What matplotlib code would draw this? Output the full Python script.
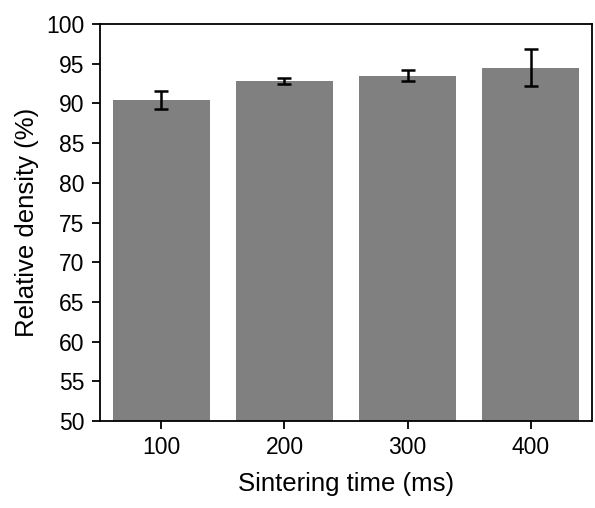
import numpy as np
import matplotlib.pyplot as plt

plt.rcParams['font.family'] = ['Liberation Sans', 'DejaVu Sans']

# sintering time (ms) vs relative density (%)
times = ['100', '200', '300', '400']
density = [90.4, 92.8, 93.5, 94.5]
density_err = [1.15, 0.4, 0.65, 2.3]

fig = plt.figure(figsize=(5.95, 5.08), dpi=100)
ax = fig.add_axes([0.168, 0.171, 0.827, 0.782])

x = np.arange(1, len(times) + 1)
ax.bar(x, density, width=0.79, color='#808080', zorder=2)
ax.errorbar(x, density, yerr=density_err, fmt='none', ecolor='black',
            elinewidth=1.8, capsize=5, capthick=1.8, zorder=3)

ax.set_xlim(0.5, 4.5)
ax.set_ylim(50, 100)
ax.set_xticks(x)
ax.set_xticklabels(times)
ax.set_yticks(np.arange(50, 101, 5))

ax.tick_params(axis='both', direction='out', length=6, width=1.3,
               labelsize=16.5, pad=5)
for side in ['left', 'right', 'top', 'bottom']:
    ax.spines[side].set_linewidth(1.3)

ax.set_xlabel('Sintering time (ms)', fontsize=18.5, labelpad=9)
ax.set_ylabel('Relative density (%)', fontsize=18.5, labelpad=5)

fig.savefig('out.png', dpi=100)
